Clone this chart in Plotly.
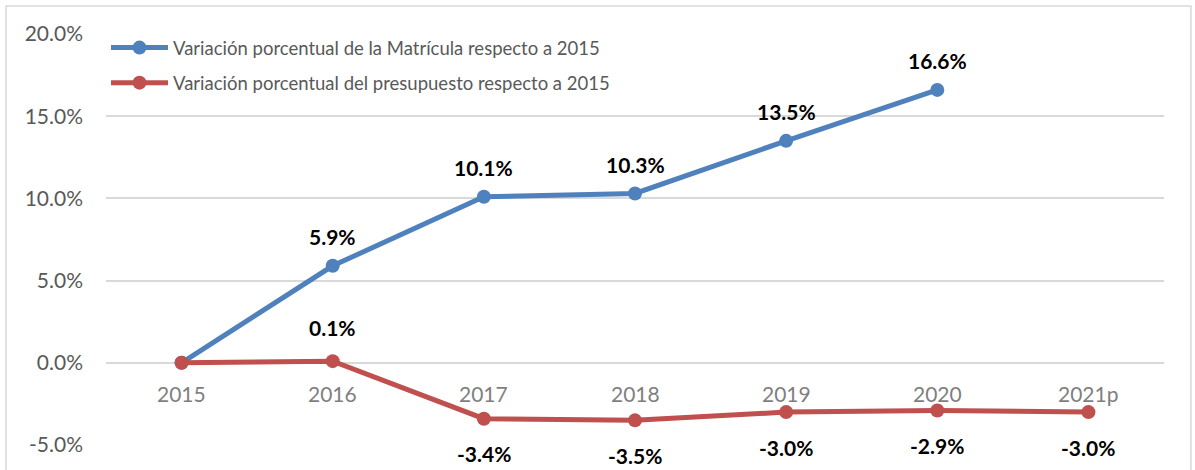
import plotly.graph_objects as go

categories = ["2015", "2016", "2017", "2018", "2019", "2020", "2021p"]
matricula = [0.0, 5.9, 10.1, 10.3, 13.5, 16.6, None]
presupuesto = [0.0, 0.1, -3.4, -3.5, -3.0, -2.9, -3.0]
name_mat = "Variación porcentual de la Matrícula respecto a 2015"
name_pre = "Variación porcentual del presupuesto respecto a 2015"
ytick_vals = [-5, 0, 5, 10, 15, 20]
ytick_text = ["-5.0%", "0.0%", "5.0%", "10.0%", "15.0%", "20.0%"]

BLUE = "#4f81bd"
RED = "#c0504d"
FONT = "Lato"

fig = go.Figure()
fig.add_trace(go.Scatter(
    x=categories, y=matricula, mode="lines+markers", name=name_mat,
    line=dict(color=BLUE, width=5), marker=dict(size=14, color=BLUE),
    legendgroup="a", connectgaps=False))
fig.add_trace(go.Scatter(
    x=categories, y=presupuesto, mode="lines+markers", name=name_pre,
    line=dict(color=RED, width=5), marker=dict(size=14, color=RED),
    legendgroup="b"))

ann = []
for i, v in enumerate(matricula):
    if v is None or i == 0:
        continue
    ann.append(dict(x=i, y=v, text=f"{v:.1f}%", showarrow=False, yshift=29,
                    font=dict(family=FONT, size=21, color="black", weight="bold")))
for i, v in enumerate(presupuesto):
    if i == 0:
        continue
    up = v > 0
    ann.append(dict(x=i, y=v, text=f"{v:.1f}%", showarrow=False,
                    yshift=34 if up else -35,
                    font=dict(family=FONT, size=21, color="black", weight="bold")))
for i, c in enumerate(categories):
    ann.append(dict(x=i, y=0, text=c, showarrow=False, yshift=-31,
                    font=dict(family=FONT, size=21, color="#7f7f7f")))

fig.update_layout(
    width=1195, height=470,
    margin=dict(l=106, r=31, t=34, b=25),
    paper_bgcolor="white", plot_bgcolor="white",
    showlegend=True,
    legend=dict(x=0.0, y=1.012, xanchor="left", yanchor="top",
                bgcolor="rgba(0,0,0,0)", font=dict(family=FONT, size=18.5, color="#595959"),
                itemwidth=57, tracegroupgap=8, traceorder="grouped"),
    annotations=ann,
    shapes=[dict(type="rect", xref="paper", yref="paper",
                 x0=-0.0945, x1=1.0255, y0=-0.1, y1=1.068,
                 line=dict(color="#d9d9d9", width=1.5), layer="below")],
)
fig.update_xaxes(type="category", range=[-0.5, 6.5], showticklabels=False,
                 showgrid=False, zeroline=False, showline=False)
fig.update_yaxes(range=[-5, 20], tickvals=ytick_vals, ticktext=ytick_text,
                 showgrid=True, gridcolor="#d9d9d9", gridwidth=1.5,
                 zeroline=False, showline=False, ticklabelstandoff=22,
                 tickfont=dict(family=FONT, size=21, color="#595959"))

fig.write_html("out.html")
